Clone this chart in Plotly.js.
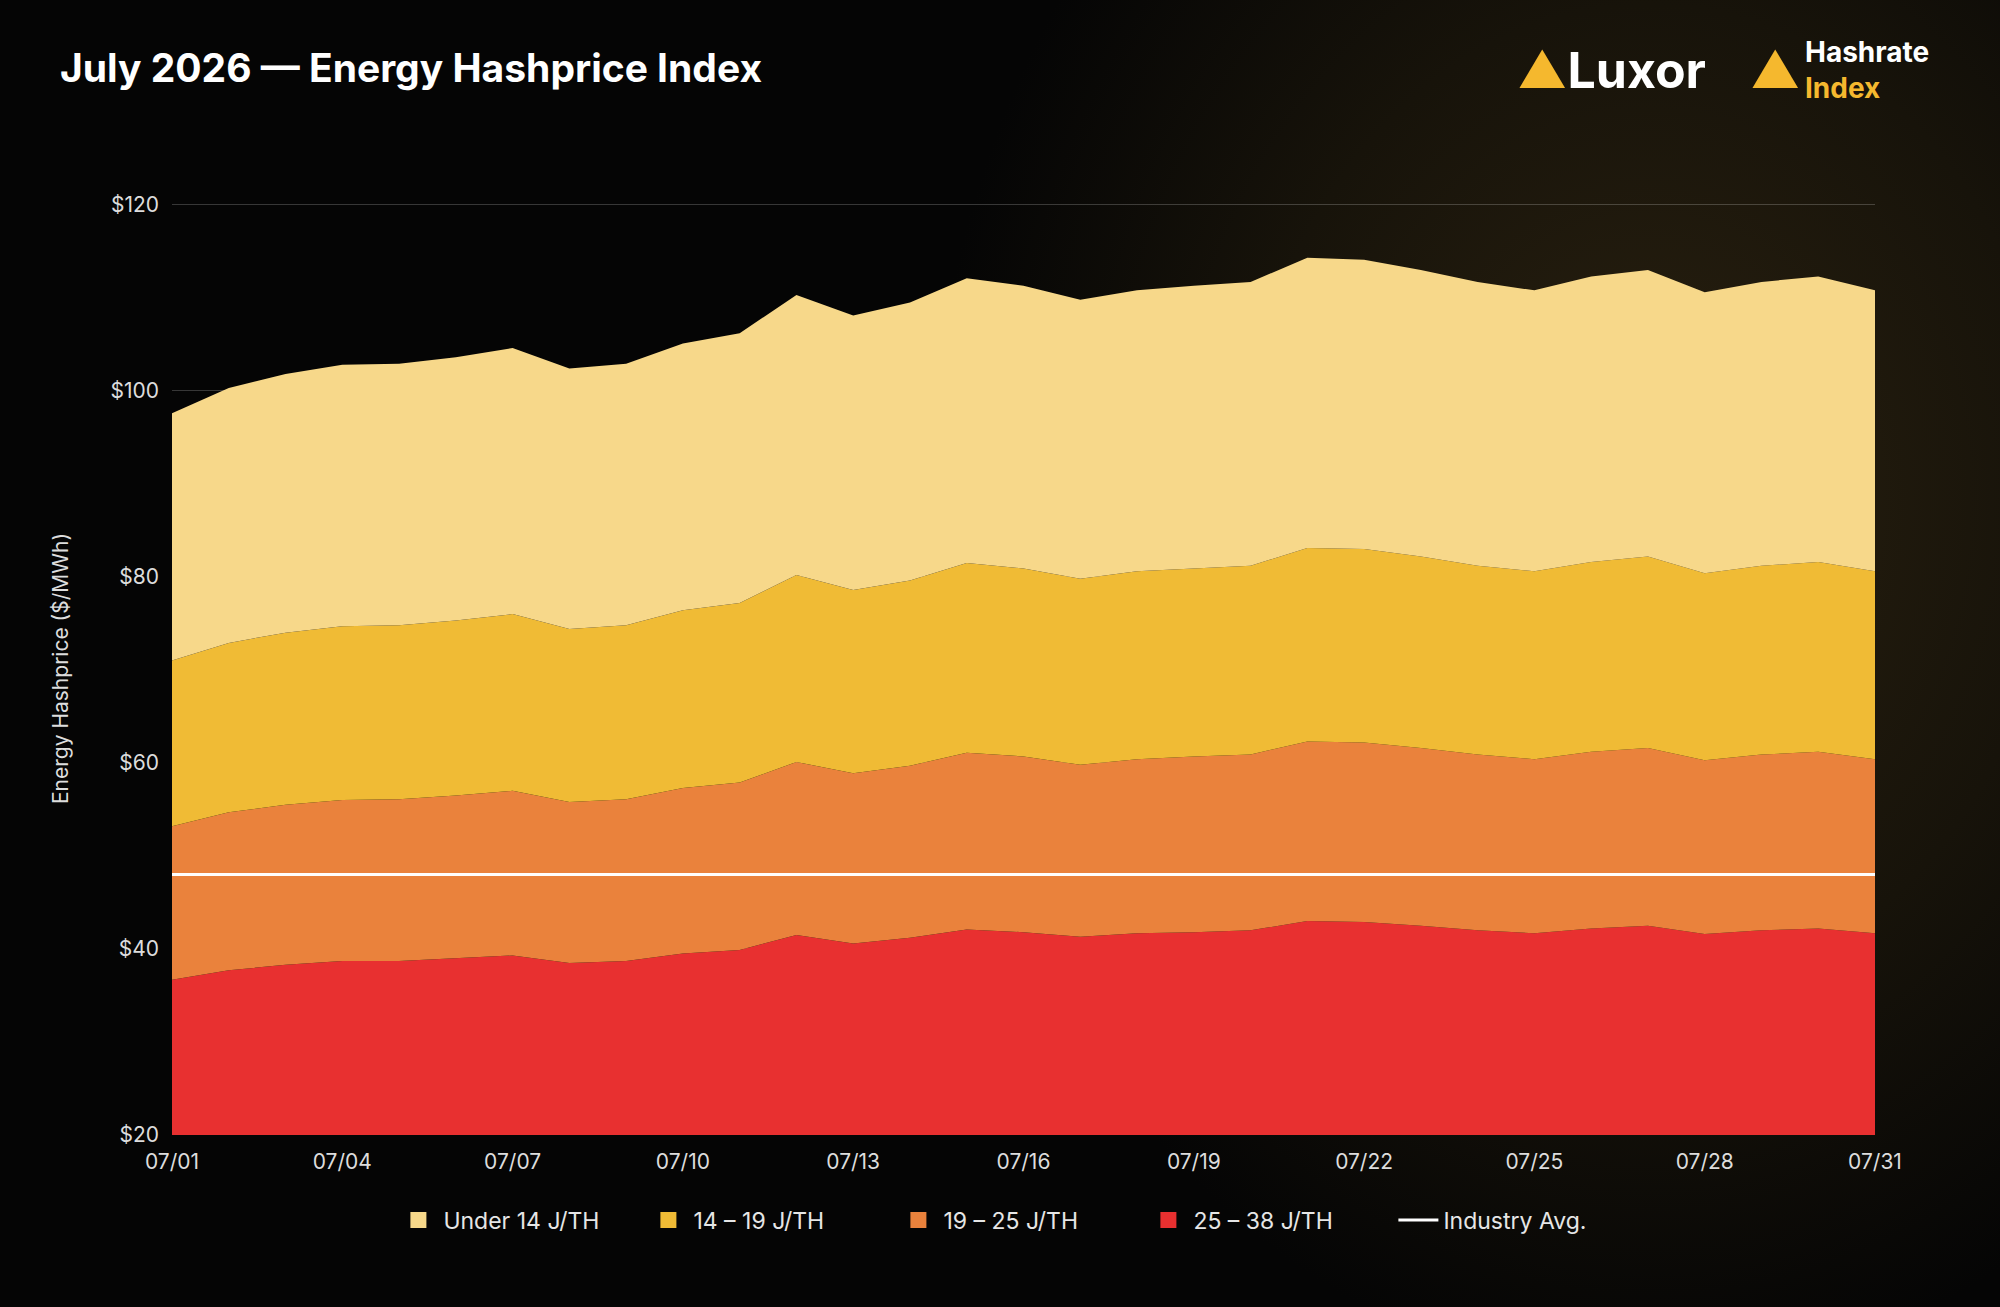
<!DOCTYPE html>
<html>
<head>
<meta charset="utf-8">
<script src="https://cdn.plot.ly/plotly-3.0.1.min.js"></script>
<style>
  html, body { margin:0; padding:0; width:2000px; height:1307px; overflow:hidden;
    background: radial-gradient(ellipse 900px 1100px at 1650px 500px, #2a2110 0%, #17130a 45%, #050505 80%), #050505; }
  #chart { width:2000px; height:1307px; }
</style>
</head>
<body>
<div id="chart"></div>
<script>
// dates 07/01 .. 07/31
const days = [];
for (let d = 1; d <= 31; d++) days.push('07/' + String(d).padStart(2, '0'));
const tickDays = ['07/01','07/04','07/07','07/10','07/13','07/16','07/19','07/22','07/25','07/28','07/31'];
const yTicks = [20, 40, 60, 80, 100, 120];
const yTickText = ['$20', '$40', '$60', '$80', '$100', '$120'];

// $/MWh
const under14 = [97.6,100.3,101.8,102.8,102.9,103.6,104.6,102.4,102.9,105.1,106.2,110.3,108.1,109.5,112.1,111.3,
  109.8,110.8,111.3,111.7,114.3,114.1,113.0,111.7,110.8,112.3,113.0,110.6,111.7,112.3,110.8];
const j14_19 = [71.0,72.9,74.0,74.7,74.8,75.3,76.0,74.4,74.8,76.4,77.2,80.2,78.6,79.6,81.5,80.9,
  79.8,80.6,80.9,81.2,83.1,83.0,82.2,81.2,80.6,81.6,82.2,80.4,81.2,81.6,80.6];
const j19_25 = [53.2,54.7,55.5,56.0,56.1,56.5,57.0,55.8,56.1,57.3,57.9,60.1,58.9,59.7,61.1,60.7,
  59.8,60.4,60.7,60.9,62.3,62.2,61.6,60.9,60.4,61.2,61.6,60.3,60.9,61.2,60.4];
const j25_38 = [36.7,37.7,38.3,38.7,38.7,39.0,39.3,38.5,38.7,39.5,39.9,41.5,40.6,41.2,42.1,41.8,
  41.3,41.7,41.8,42.0,43.0,42.9,42.5,42.0,41.7,42.2,42.5,41.6,42.0,42.2,41.7];
const industryAvg = days.map(() => 48.0);

const names = ['Under 14 J/TH', '14 – 19 J/TH', '19 – 25 J/TH', '25 – 38 J/TH'];
const colors = ['#F7D88A', '#F0BB35', '#EA823C', '#E83030'];

const mk = (y, i, fill) => ({
  x: days, y: y, name: names[i], type: 'scatter', mode: 'lines', showlegend: false,
  line: {width: 0, color: colors[i]}, fill: fill, fillcolor: colors[i]
});
// legend-only square swatches
const sw = i => ({x: [null], y: [null], name: names[i], type: 'scatter', mode: 'markers',
  marker: {symbol: 'square', size: 26, color: colors[i]}, legendrank: i + 1});

const traces = [
  mk(j25_38, 3, 'tozeroy'),
  mk(j19_25, 2, 'tonexty'),
  mk(j14_19, 1, 'tonexty'),
  mk(under14, 0, 'tonexty'),
  sw(0), sw(1), sw(2), sw(3),
  {x: days, y: industryAvg, name: 'Industry Avg.', type: 'scatter', mode: 'lines',
   line: {width: 3, color: '#ffffff'}, legendrank: 5}
];

const layout = {
  width: 2000, height: 1307,
  paper_bgcolor: 'rgba(0,0,0,0)', plot_bgcolor: 'rgba(0,0,0,0)',
  font: {family: 'Inter, sans-serif', color: '#e6e6e6', size: 21},
  margin: {l: 172, r: 125, t: 202, b: 172},
  title: {text: '<b>July 2026 — Energy Hashprice Index</b>', x: 0.03, xanchor: 'left', y: 0.958,
    font: {size: 39, color: '#ffffff', family: 'Inter, sans-serif'}},
  xaxis: {type: 'category', tickvals: tickDays, ticktext: tickDays, showgrid: false, zeroline: false,
    range: [0, 30], ticks: '', ticklabelstandoff: 12, tickfont: {size: 21, color: '#dddddd'}},
  yaxis: {range: [20, 120.3], tickvals: yTicks, ticktext: yTickText, showgrid: true, ticklabelstandoff: 12,
    gridcolor: 'rgba(255,255,255,0.2)', gridwidth: 1, zeroline: false, tickfont: {size: 21, color: '#dddddd'},
    title: {text: 'Energy Hashprice ($/MWh)', font: {size: 21, color: '#dddddd'}, standoff: 36}},
  showlegend: true,
  legend: {orientation: 'h', x: 0.497, xanchor: 'center', y: -0.068, yanchor: 'top', traceorder: 'normal',
    font: {size: 23, color: '#e6e6e6'}, itemwidth: 40, entrywidth: 195, entrywidthmode: 'pixels'},
  annotations: [
    {xref: 'paper', yref: 'paper', x: 0.902, y: 1.141, xanchor: 'right', yanchor: 'middle', showarrow: false,
     text: '<span style="color:#F5B82E">▲</span><b>Luxor</b>', font: {size: 50, color: '#ffffff'}},
    {xref: 'paper', yref: 'paper', x: 0.958, y: 1.141, xanchor: 'right', yanchor: 'middle', showarrow: false,
     text: '<span style="color:#F5B82E">▲</span>', font: {size: 50}},
    {xref: 'paper', yref: 'paper', x: 0.958, y: 1.141, xanchor: 'left', yanchor: 'middle', showarrow: false,
     align: 'left', text: '<b>Hashrate</b><br><b><span style="color:#F5B82E">Index</span></b>',
     font: {size: 28, color: '#ffffff'}}
  ]
};

Plotly.newPlot('chart', traces, layout, {displayModeBar: false});
</script>
</body>
</html>
